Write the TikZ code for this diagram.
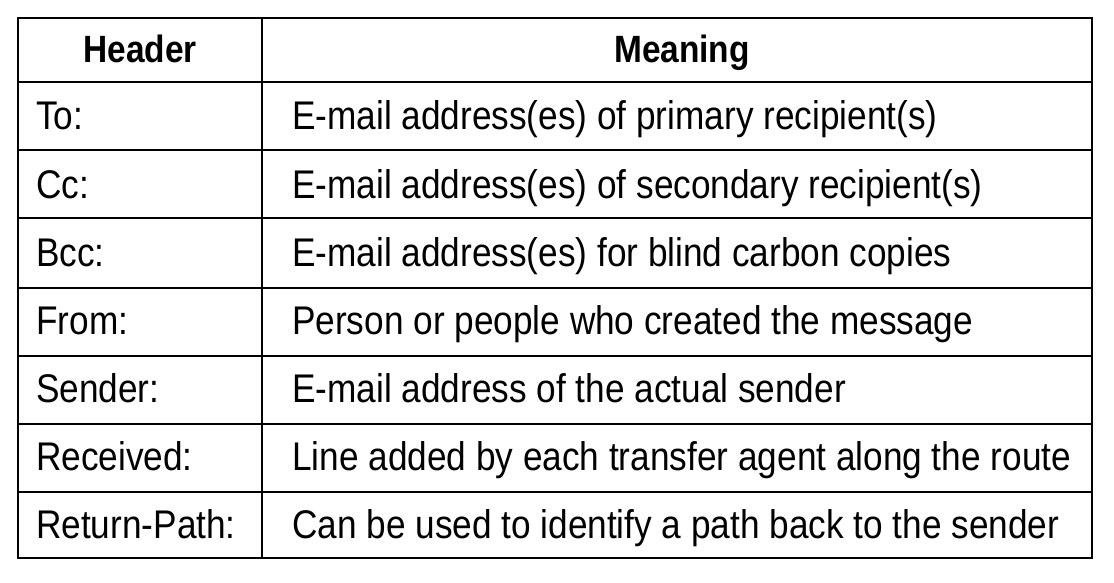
\documentclass[tikz,border=0pt]{standalone}
\usepackage{fontspec}
\setmainfont[FakeStretch=0.88]{Liberation Sans}
\begin{document}
\begin{tikzpicture}[x=1pt,y=-1pt,
  cell/.style={anchor=base west,inner sep=0pt,font=\fontsize{40}{44}\selectfont},
  head/.style={anchor=base,inner sep=0pt,font=\fontsize{38}{44}\selectfont\bfseries},
  rule/.style={line width=2.6pt}]
\useasboundingbox (0,0) rectangle (1114,583);
\draw[rule] (18,18) rectangle (1092,558);
\draw[rule] (262,18) -- (262,558);
\foreach \y in {82,150,218,288,356,424,492} \draw[rule] (18,\y) -- (1092,\y);
\node[head] (h1) at (140,63) {Header};
\node[head] (h2) at (682,63) {Meaning};
\foreach \i/\a/\b in {0/To:/E-mail address(es) of primary recipient(s),
  1/Cc:/E-mail address(es) of secondary recipient(s),
  2/Bcc:/E-mail address(es) for blind carbon copies,
  3/From:/Person or people who created the message,
  4/Sender:/E-mail address of the actual sender,
  5/Received:/Line added by each transfer agent along the route,
  6/Return-Path:/Can be used to identify a path back to the sender}
 {\node[cell] (a\i) at (36,{130+68*\i}) {\a};
  \node[cell] (b\i) at (292,{130+68*\i}) {\b};}
\end{tikzpicture}
\end{document}
